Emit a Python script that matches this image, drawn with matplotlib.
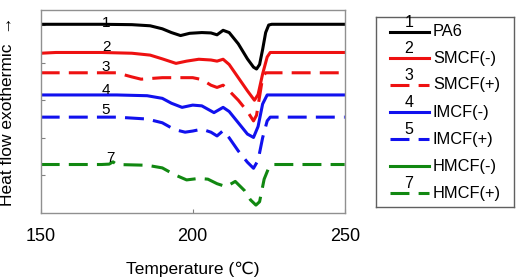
import matplotlib
matplotlib.use("Agg")
import matplotlib.pyplot as plt

matplotlib.rcParams["font.family"] = ["Liberation Sans", "DejaVu Sans"]

# ---------- curve data ----------
T_pa6 = [150, 170, 180, 186, 190, 193, 196, 199, 203, 206, 208, 210, 212, 215, 218, 220, 221, 222, 223, 224, 225, 226, 250]
y_pa6 = [5.02, 5.02, 5.01, 4.98, 4.90, 4.80, 4.72, 4.78, 4.80, 4.79, 4.74, 4.86, 4.80, 4.50, 4.10, 3.88, 3.83, 3.95, 4.35, 4.80, 5.00, 5.02, 5.02]

T_smcf_m = [150, 155, 170, 180, 186, 190, 194.5, 198, 202, 206, 208, 210, 212, 215, 218, 220.3, 221.5, 223, 224.5, 225.5, 250]
y_smcf_m = [4.25, 4.27, 4.27, 4.25, 4.20, 4.10, 3.98, 4.04, 4.09, 4.07, 4.04, 4.09, 3.95, 3.60, 3.25, 3.00, 3.15, 3.70, 4.15, 4.27, 4.27]

T_smcf_p = [150, 175, 180, 183, 190, 200, 203, 206, 208, 210, 212, 215, 218, 220, 221, 222, 223, 224, 250]
y_smcf_p = [3.73, 3.73, 3.62, 3.56, 3.60, 3.60, 3.55, 3.40, 3.34, 3.40, 3.25, 3.00, 2.70, 2.45, 2.60, 3.10, 3.60, 3.73, 3.73]

T_imcf_m = [150, 175, 185, 190, 193, 196.5, 200, 203, 207, 210, 212, 215, 218, 220, 221.5, 223, 224.5, 250]
y_imcf_m = [3.14, 3.14, 3.12, 3.05, 2.92, 2.81, 2.87, 2.85, 2.67, 2.81, 2.70, 2.40, 2.10, 2.01, 2.30, 2.90, 3.14, 3.14]

T_imcf_p = [150, 175, 185, 190, 194, 197.5, 200, 203, 206, 208, 210, 212, 215, 218, 220, 221.5, 223, 224.5, 225.5, 250]
y_imcf_p = [2.55, 2.55, 2.50, 2.40, 2.22, 2.15, 2.18, 2.23, 2.15, 2.05, 2.19, 2.00, 1.65, 1.35, 1.19, 1.40, 2.00, 2.45, 2.55, 2.55]

T_hmcf_m = []   # listed in legend only
y_hmcf_m = []

T_hmcf_p = [150, 170, 172.5, 173.8, 175, 185, 190, 194, 198, 202, 205, 208, 211, 214, 217, 219, 220.8, 222, 223.5, 225, 226, 250]
y_hmcf_p = [1.29, 1.29, 1.30, 1.36, 1.29, 1.27, 1.20, 1.02, 0.88, 0.92, 0.90, 0.78, 0.70, 0.84, 0.60, 0.35, 0.21, 0.30, 0.90, 1.20, 1.29, 1.29]

names = ["PA6", "SMCF(-)", "SMCF(+)", "IMCF(-)", "IMCF(+)", "HMCF(-)", "HMCF(+)"]
nums = ["1", "2", "3", "4", "5", "", "7"]
# curve-number label positions inside the plot
num_T = [171.5, 171.5, 171.5, 171.5, 171.5, None, 172.8]
num_y = [5.05, 4.42, 3.88, 3.28, 2.73, None, 1.47]

RED, BLUE, GREEN = "#ee1111", "#1111ee", "#118811"
colors = ["black", RED, RED, BLUE, BLUE, GREEN, GREEN]
SOLID = "-"
DASH = (0, (6.2, 3.0))
styles = [SOLID, SOLID, DASH, SOLID, DASH, SOLID, DASH]
series = [(T_pa6, y_pa6), (T_smcf_m, y_smcf_m), (T_smcf_p, y_smcf_p), (T_imcf_m, y_imcf_m),
          (T_imcf_p, y_imcf_p), (T_hmcf_m, y_hmcf_m), (T_hmcf_p, y_hmcf_p)]

W, H = 519, 278
fig = plt.figure(figsize=(W / 100, H / 100), dpi=100)
ax = fig.add_axes([40.7 / W, 1 - 213 / H, 304 / W, 203 / H])

for (t, y), c, ls in zip(series, colors, styles):
    ax.plot(t, y, color=c, ls=ls, lw=2.2)
for n, tx, ty in zip(nums, num_T, num_y):
    if n:
        ax.text(tx, ty, n, ha="center", va="center", fontsize=11)

ax.set_xlim(150, 250)
ax.set_ylim(0, 5.4)
ax.set_xticks([150, 200, 250])
ax.set_yticks([1, 2, 3, 4, 5])
ax.set_yticklabels([])
ax.tick_params(direction="in", length=3, color="#808080", labelsize=13, pad=10.5)
for s in ax.spines.values():
    s.set_color("#909090")
    s.set_linewidth(1)
ax.set_xlabel("Temperature (\u2103)", fontsize=12.5, labelpad=12)
ax.set_ylabel("Heat flow exothermic  \u2192", fontsize=12.5)
ax.yaxis.set_label_coords(-0.085, 0.5)

# ---------- hand-built legend box ----------
lx0, lx1, ly0, ly1 = 375.7, 514, 17, 207
lg = fig.add_axes([lx0 / W, 1 - ly1 / H, (lx1 - lx0) / W, (ly1 - ly0) / H])
lg.set_xlim(lx0, lx1)
lg.set_ylim(ly1, ly0)
lg.set_xticks([]); lg.set_yticks([])
for s in lg.spines.values():
    s.set_color("#606060")
    s.set_linewidth(1)
row_y = [31.7, 58.3, 85, 112.3, 139.3, 166, 193.3]
for ry, c, ls, nm, n in zip(row_y, colors, styles, names, nums):
    lg.plot([390, 429], [ry, ry], color=c, ls=ls, lw=2.2)
    lg.text(433, ry, nm, ha="left", va="center", fontsize=11.8)
    if n:
        lg.text(409, ry - 9.5, n, ha="center", va="center", fontsize=11.5)

fig.savefig("out.png", dpi=100)
